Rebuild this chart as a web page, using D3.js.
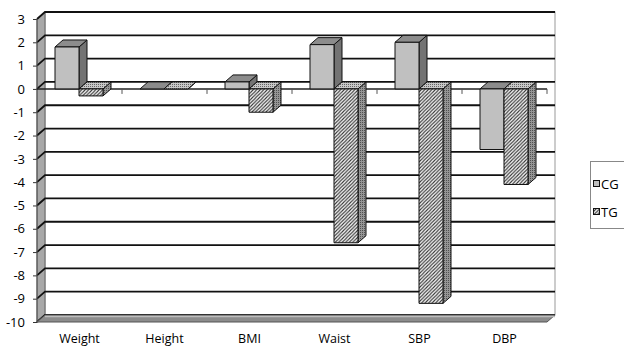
<!DOCTYPE html>
<html><head><meta charset="utf-8">
<script src="https://cdn.jsdelivr.net/npm/d3@7"></script>
<style>body{margin:0;background:#fff}svg text{font-family:"Open Sans",sans-serif;fill:#000}</style>
</head><body><svg id="c" width="624" height="347"></svg>
<script>
const categories=["Weight","Height","BMI","Waist","SBP","DBP"];
const seriesNames=["CG","TG"];
const cgValues=[1.8,0,0.3,1.9,2.0,-2.6];
const tgValues=[-0.3,0,-1.0,-6.6,-9.2,-4.1];
const yTicks=d3.range(-10,4);

const svg=d3.select("#c");
const DX=8, DY=-7;
const x=d3.scaleBand().domain(categories).range([37,547]);
const inner=d3.scaleBand().domain(seriesNames).range([18,66]);
const y=d3.scaleLinear().domain([-10,3]).range([322,19]);

const defs=svg.append("defs");
const hatch=defs.append("pattern").attr("id","hatch").attr("patternUnits","userSpaceOnUse").attr("width",3.5).attr("height",3.5);
hatch.append("rect").attr("width",3.5).attr("height",3.5).attr("fill","#fff");
hatch.append("path").attr("d","M-1,1 l2,-2 M0,3.5 l3.5,-3.5 M2.5,4.5 l2,-2").attr("stroke","#333").attr("stroke-width",1.1);
const dots=defs.append("pattern").attr("id","dots").attr("patternUnits","userSpaceOnUse").attr("width",2).attr("height",2);
dots.append("rect").attr("width",2).attr("height",2).attr("fill","#c8c8c8");
dots.append("rect").attr("width",1).attr("height",1).attr("fill","#666");
const dotsDark=defs.append("pattern").attr("id","dotsDark").attr("patternUnits","userSpaceOnUse").attr("width",2).attr("height",2);
dotsDark.append("rect").attr("width",2).attr("height",2).attr("fill","#959595");
dotsDark.append("rect").attr("width",1).attr("height",1).attr("fill","#505050");

const x0=x.range()[0], x1=x.range()[1];
const yTop=y(3), yBot=y(-10);
// back wall
svg.append("rect").attr("x",x0+DX).attr("y",yTop+DY).attr("width",x1-x0).attr("height",yBot-yTop).attr("fill","#fff").attr("stroke","#999").attr("stroke-width",1);
// left wall
svg.append("path").attr("d",`M${x0},${yTop}L${x0+DX},${yTop+DY}L${x0+DX},${yBot+DY}L${x0},${yBot}Z`).attr("fill","#a8a8a8").attr("stroke","#666").attr("stroke-width",1);
// gridlines
svg.append("g").selectAll("path").data(yTicks).join("path")
  .attr("d",v=>`M${x0},${y(v)}L${x0+DX},${y(v)+DY}L${x1+DX},${y(v)+DY}`)
  .attr("fill","none").attr("stroke","#111").attr("stroke-width",1.8);
// floor
svg.append("path").attr("d",`M${x0},${yBot}L${x0+DX},${yBot+DY}L${x1+DX},${yBot+DY}L${x1},${yBot}Z`).attr("fill","#8c8c8c").attr("stroke","#555").attr("stroke-width",1);
svg.append("line").attr("x1",x0+DX).attr("x2",x1+DX).attr("y1",yBot+DY+1.5).attr("y2",yBot+DY+1.5).attr("stroke","#bdbdbd").attr("stroke-width",1.5);
// y axis
const yAxis=svg.append("g").attr("transform",`translate(${x0},0)`).call(d3.axisLeft(y).tickValues(yTicks).tickSize(4).tickPadding(8).tickFormat(d=>String(d)));
yAxis.select(".domain").remove();
yAxis.selectAll("line").attr("stroke","#333");
yAxis.selectAll("text").style("font-size","13px").style("font-family","'Open Sans',sans-serif");
svg.append("line").attr("x1",x0).attr("x2",x0).attr("y1",yTop).attr("y2",yBot).attr("stroke","#555");
// zero axis
const y0=y(0);
svg.append("line").attr("x1",x0).attr("x2",x1).attr("y1",y0).attr("y2",y0).attr("stroke","#222").attr("stroke-width",1.5);
svg.append("g").selectAll("line").data(categories).join("line")
  .attr("x1",d=>x(d)+x.bandwidth()).attr("x2",d=>x(d)+x.bandwidth())
  .attr("y1",y0).attr("y2",y0+5).attr("stroke","#555");

// bars
const styles={CG:{front:"#c0c0c0",top:"#8c8c8c",side:"#737373"},TG:{front:"url(#hatch)",top:"url(#dots)",side:"url(#dotsDark)"}};
const data=[];
categories.forEach((c,i)=>{data.push({c,s:"CG",v:cgValues[i]});data.push({c,s:"TG",v:tgValues[i]});});
const g=svg.append("g");
data.forEach(d=>{
  const bx=x(d.c)+inner(d.s), w=inner.bandwidth();
  const a=y(Math.max(0,d.v)), b=y(Math.min(0,d.v));
  const st=styles[d.s];
  const bg=g.append("g").attr("stroke","#111").attr("stroke-width",1).attr("stroke-linejoin","round");
  bg.append("path").attr("d",`M${bx+w},${a}L${bx+w+DX},${a+DY}L${bx+w+DX},${b+DY}L${bx+w},${b}Z`).attr("fill",st.side);
  bg.append("path").attr("d",`M${bx},${a}L${bx+DX},${a+DY}L${bx+w+DX},${a+DY}L${bx+w},${a}Z`).attr("fill",st.top);
  if(b-a>0.5) bg.append("rect").attr("x",bx).attr("y",a).attr("width",w).attr("height",b-a).attr("fill",st.front);
});

// category labels
svg.append("g").selectAll("text").data(categories).join("text")
  .attr("x",d=>x(d)+x.bandwidth()/2).attr("y",343).attr("text-anchor","middle")
  .style("font-size","12.5px").text(d=>d);

// legend
const lg=svg.append("g");
lg.append("rect").attr("x",590.5).attr("y",161.5).attr("width",40).attr("height",67).attr("fill","#fff").attr("stroke","#888");
const legY=[184,212];
seriesNames.forEach((s,i)=>{
  lg.append("rect").attr("x",593.5).attr("y",legY[i]-3.5).attr("width",6).attr("height",6)
    .attr("fill",i===0?"#c0c0c0":"url(#hatch)").attr("stroke","#111");
  lg.append("text").attr("x",601).attr("y",legY[i]).attr("dy","0.35em").style("font-size","13px").text(s);
});
</script></body></html>
